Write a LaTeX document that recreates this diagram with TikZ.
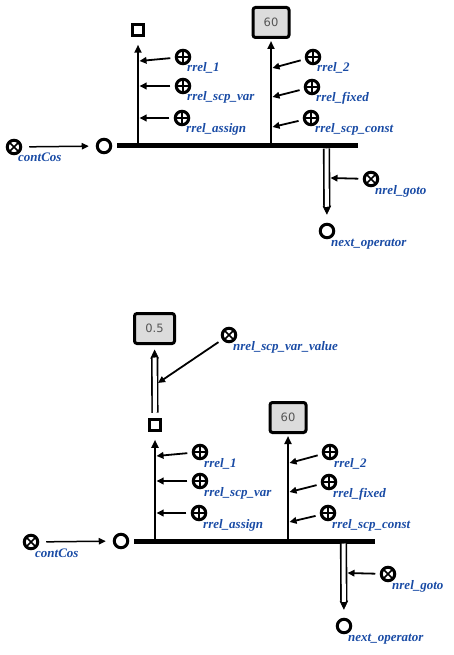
\documentclass[tikz,border=0pt]{standalone}
\usepackage{fontspec}
\setmainfont{Liberation Serif}
\newfontfamily\boxfont{DejaVu Sans}
\usetikzlibrary{arrows.meta,calc}
\definecolor{lblblue}{RGB}{25,75,165}
\definecolor{boxgray}{RGB}{220,220,220}
\definecolor{numgray}{RGB}{85,85,85}
\tikzset{
  opnode/.style={circle,draw,line width=3pt,minimum size=13.5pt,inner sep=0pt,fill=white},
  relp/.style={circle,draw,line width=3pt,minimum size=13.5pt,inner sep=0pt,fill=white,
    path picture={\draw[line width=1.6pt] (path picture bounding box.north)--(path picture bounding box.south)
      (path picture bounding box.west)--(path picture bounding box.east);}},
  reln/.style={circle,draw,line width=3pt,minimum size=13.5pt,inner sep=0pt,fill=white,
    path picture={\draw[line width=1.6pt] (path picture bounding box.north west)--(path picture bounding box.south east)
      (path picture bounding box.south west)--(path picture bounding box.north east);}},
  sqnode/.style={rectangle,draw,line width=3pt,minimum size=11.5pt,inner sep=0pt,fill=white},
  numbox/.style={rectangle,rounded corners=2.5pt,draw,line width=3pt,fill=boxgray,text=numgray,
    minimum width=36pt,minimum height=30pt,inner sep=0pt,font=\boxfont\fontsize{11.5}{13}\selectfont,
    path picture={\fill (path picture bounding box.north west) -- ++(7pt,0) -- ++(-7pt,-7pt) -- cycle;}},
  lbl/.style={anchor=base west,inner sep=0pt,text=lblblue,font=\fontsize{13}{15}\selectfont\bfseries\itshape},
  arr/.style={line width=1.8pt,-{Triangle[length=7pt,width=6.5pt]}},
  vline/.style={line width=2pt,-{Triangle[length=8pt,width=7pt]}},
  barline/.style={line width=5pt},
}
% double (hollow) arrow: from, to, shorten start, shorten tip, shorten tip + tip length
\newcommand\dblarr[5]{%
  \draw[line width=0.5pt,-{Triangle[length=9pt,width=8.5pt]},shorten <=#3,shorten >=#4] (#1) -- (#2);
  \draw[line width=1.6pt,double=white,double distance=4pt,shorten <=#3,shorten >=#5] (#1) -- (#2);}
\newcommand\opblock{%
  \node[reln] (cc) at (14,147) {};
  \node[lbl] (cclbl) at (18,162) {contCos};
  \node[opnode] (op) at (104,146) {};
  \coordinate (barL) at (117,146);
  \coordinate (barR) at (358,146);
  \draw[barline] (barL) -- (barR);
  \draw[arr,line width=1.5pt,shorten <=7pt,shorten >=7pt] (cc) -- (op);
  % left branch
  \coordinate (b1) at (138,146);
  \node[sqnode] (sq) at (138,30) {};
  \draw[vline,shorten >=7.5pt] (b1) -- (sq);
  \node[relp] (r1) at (183,57) {};
  \node[lbl] (r1lbl) at (187,72) {rrel\_1};
  \coordinate (p1) at (139.5,61);
  \draw[arr,shorten <=4.5pt] (r1) -- (p1);
  \node[relp] (rsv) at (183,86) {};
  \node[lbl] (rsvlbl) at (187,101) {rrel\_scp\_var};
  \coordinate (p2) at (139.5,86);
  \draw[arr,shorten <=4.5pt] (rsv) -- (p2);
  \node[relp] (ras) at (182,118) {};
  \node[lbl] (raslbl) at (186,133) {rrel\_assign};
  \coordinate (p3) at (139.5,118);
  \draw[arr,shorten <=4.5pt] (ras) -- (p3);
  % middle branch
  \coordinate (b2) at (271,146);
  \node[numbox] (n60) at (271,22.5) {60};
  \draw[vline,shorten >=2pt] (b2) -- (n60);
  \node[relp] (r2) at (313,57) {};
  \node[lbl] (r2lbl) at (317,72) {rrel\_2};
  \coordinate (q1) at (272.5,68);
  \draw[arr,shorten <=4.5pt] (r2) -- (q1);
  \node[relp] (rfx) at (312,87) {};
  \node[lbl] (rfxlbl) at (316,102) {rrel\_fixed};
  \coordinate (q2) at (272.5,97);
  \draw[arr,shorten <=4.5pt] (rfx) -- (q2);
  \node[relp] (rsc) at (311,118) {};
  \node[lbl] (rsclbl) at (315,133) {rrel\_scp\_const};
  \coordinate (q3) at (272.5,127);
  \draw[arr,shorten <=4.5pt] (rsc) -- (q3);
  % goto branch
  \coordinate (b3) at (326.5,148.5);
  \node[opnode] (nx) at (327,231) {};
  \node[lbl] (nxlbl) at (331,246) {next\_operator};
  \dblarr{b3}{nx}{0pt}{8pt}{16pt}
  \node[reln] (ng) at (371,179) {};
  \node[lbl] (nglbl) at (375,194) {nrel\_goto};
  \coordinate (g1) at (330.5,178);
  \draw[arr,shorten <=4.5pt] (ng) -- (g1);
}
\begin{document}
\begin{tikzpicture}[x=1pt,y=-1pt]
  \useasboundingbox (0,0) rectangle (454,655);
  \begin{scope}[name prefix=T-]
    \opblock
  \end{scope}
  \begin{scope}[shift={(17,395)},name prefix=B-]
    \opblock
    \node[numbox,minimum width=40pt] (n05) at (137.5,-66.5) {0.5};
    \dblarr{sq}{n05}{5pt}{4.5pt}{12.5pt}
    \node[reln] (nsv) at (212,-60) {};
    \node[lbl] (nsvlbl) at (216,-45) {nrel\_scp\_var\_value};
    \coordinate (v1) at (141,-12);
    \draw[arr,shorten <=4.5pt] (nsv) -- (v1);
  \end{scope}
\end{tikzpicture}
\end{document}
